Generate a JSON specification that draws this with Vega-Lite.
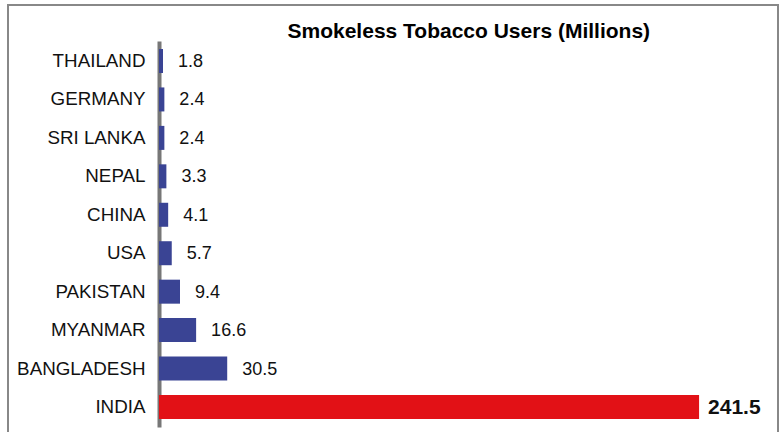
{
  "$schema": "https://vega.github.io/schema/vega-lite/v6.json",
  "width": 770,
  "height": 432,
  "autosize": {"type": "none"},
  "padding": {"left": 8, "top": 5, "right": 2, "bottom": 0},
  "background": "white",
  "config": {
    "view": {"stroke": "#888888", "strokeWidth": 2},
    "font": "Liberation Sans"
  },
  "data": {
    "values": [
      {"country": "THAILAND", "users": 1.8},
      {"country": "GERMANY", "users": 2.4},
      {"country": "SRI LANKA", "users": 2.4},
      {"country": "NEPAL", "users": 3.3},
      {"country": "CHINA", "users": 4.1},
      {"country": "USA", "users": 5.7},
      {"country": "PAKISTAN", "users": 9.4},
      {"country": "MYANMAR", "users": 16.6},
      {"country": "BANGLADESH", "users": 30.5},
      {"country": "INDIA", "users": 241.5}
    ]
  },
  "encoding": {
    "y": {
      "field": "country",
      "type": "nominal",
      "sort": ["THAILAND", "GERMANY", "SRI LANKA", "NEPAL", "CHINA", "USA", "PAKISTAN", "MYANMAR", "BANGLADESH", "INDIA"],
      "scale": {"range": [36, 422], "paddingInner": 0.3757, "paddingOuter": 0.208},
      "axis": {
        "title": null,
        "offset": -151,
        "ticks": false,
        "domainColor": "#777777",
        "domainWidth": 4,
        "labelFont": "Liberation Sans",
        "labelFontSize": 18.8,
        "labelColor": "#111111",
        "labelPadding": 14
      }
    },
    "x": {
      "field": "users",
      "type": "quantitative",
      "scale": {"domain": [0, 275], "range": [151, 766], "nice": false, "zero": true},
      "axis": {
        "orient": "top",
        "title": "Smokeless Tobacco Users (Millions)",
        "titleFont": "Liberation Sans",
        "titleFontSize": 21,
        "titleFontWeight": "bold",
        "titleColor": "#000000",
        "titleX": 279,
        "titleY": 32,
        "titleAlign": "left",
        "titleAnchor": "start",
        "titleBaseline": "alphabetic",
        "labels": false,
        "ticks": false,
        "domain": false,
        "grid": false
      }
    }
  },
  "layer": [
    {
      "mark": {"type": "bar"},
      "encoding": {
        "color": {
          "condition": {"test": "datum.country === 'INDIA'", "value": "#E21116"},
          "value": "#3A4494"
        }
      }
    },
    {
      "transform": [{"filter": "datum.country !== 'INDIA'"}],
      "mark": {"type": "text", "align": "left", "baseline": "middle", "dx": 15, "dy": 1, "font": "Liberation Sans", "fontSize": 18, "color": "#111111"},
      "encoding": {
        "text": {"field": "users", "type": "quantitative", "format": ".1f"}
      }
    },
    {
      "transform": [{"filter": "datum.country === 'INDIA'"}],
      "mark": {"type": "text", "align": "left", "baseline": "middle", "dx": 9, "dy": 1, "font": "Liberation Sans", "fontSize": 21, "fontWeight": "bold", "color": "#111111"},
      "encoding": {
        "text": {"field": "users", "type": "quantitative", "format": ".1f"}
      }
    }
  ]
}
